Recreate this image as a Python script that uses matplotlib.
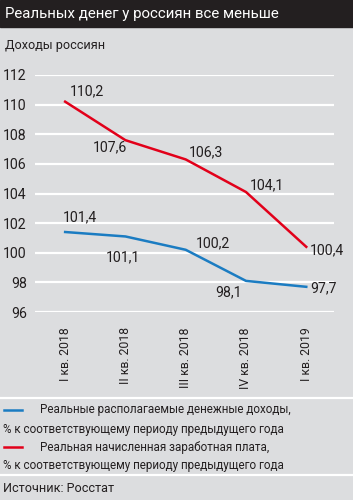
import matplotlib
matplotlib.use("Agg")
import matplotlib.pyplot as plt
from matplotlib.lines import Line2D
from matplotlib.patches import Rectangle

plt.rcParams['font.family'] = ['Roboto', 'DejaVu Sans']

categories = ["I кв. 2018", "II кв. 2018", "III кв. 2018", "IV кв. 2018", "I кв. 2019"]
income = [101.4, 101.1, 100.2, 98.1, 97.7]
wages = [110.2, 107.6, 106.3, 104.1, 100.4]
yticks = [96, 98, 100, 102, 104, 106, 108, 110, 112]
income_label_offsets = [(15, 15), (-2, -21), (27, 6), (-17, -11), (17, -1)]
wages_label_offsets = [(22, 10), (-15, -7), (20, 7), (21, 7), (21, -3)]

title = "Реальных денег у россиян все меньше"
subtitle = "Доходы россиян"
legend_income = ["Реальные располагаемые денежные доходы,", "% к соответствующему периоду предыдущего года"]
legend_wages = ["Реальная начисленная заработная плата,", "% к соответствующему периоду предыдущего года"]
source = "Источник: Росстат"

BG = "#dcdddf"
DARK = "#231f20"
RED = "#e2001a"
BLUE = "#1b7cc2"
TXT = "#231f20"

FS = 8.4
W, H = 353, 500
fig = plt.figure(figsize=(W / 100, H / 100), dpi=100, facecolor=BG)

def fy(py):
    return 1 - py / H

def fx(px):
    return px / W

# title bar
fig.patches.append(Rectangle((0, fy(27)), 1, 27 / H, transform=fig.transFigure, color=DARK, zorder=0))
fig.text(fx(5), fy(14), title, color="white", fontsize=10.8, va="center", ha="left")
fig.text(fx(5), fy(45), subtitle, color=TXT, fontsize=9.1, va="center", ha="left")

# axes
ax = fig.add_axes([fx(35), fy(312), fx(334) - fx(35), fy(75) - fy(312)])
ax.set_facecolor(BG)
ax.set_ylim(96, 112)
ax.set_xlim(-0.5, 4.46)
ax.set_yticks(yticks)
ax.set_yticklabels([str(v) for v in yticks])
ax.yaxis.grid(True, color="white", linewidth=1.6)
ax.set_axisbelow(True)
for s in ax.spines.values():
    s.set_visible(False)
ax.tick_params(axis="y", length=0, pad=6, labelsize=10.2, labelcolor=TXT)
ax.tick_params(axis="x", length=0, pad=11, labelsize=8.8, labelcolor=TXT)
x = list(range(len(categories)))
ax.set_xticks(x)
ax.set_xticklabels(categories, rotation=90, va="top", ha="center")

ax.plot(x, wages, color=RED, linewidth=1.8, clip_on=False, solid_joinstyle="round")
ax.plot(x, income, color=BLUE, linewidth=1.8, clip_on=False, solid_joinstyle="round")

def fmt(v):
    return f"{v:.1f}".replace(".", ",")

for xi, v, off in zip(x, wages, wages_label_offsets):
    ax.annotate(fmt(v), (xi, v), xytext=off, textcoords="offset pixels",
                ha="center", va="center", fontsize=10.2, color=TXT)
for xi, v, off in zip(x, income, income_label_offsets):
    ax.annotate(fmt(v), (xi, v), xytext=off, textcoords="offset pixels",
                ha="center", va="center", fontsize=10.2, color=TXT)

# separators
for py in (398, 475):
    fig.lines.append(Line2D([0, 1], [fy(py), fy(py)], transform=fig.transFigure, color="white", linewidth=1.6))

# legend
fig.lines.append(Line2D([fx(4), fx(22)], [fy(410), fy(410)], transform=fig.transFigure, color=BLUE, linewidth=1.8))
fig.text(fx(40), fy(410), legend_income[0], fontsize=FS, color=TXT, va="center", ha="left")
fig.text(fx(3), fy(429), legend_income[1], fontsize=FS, color=TXT, va="center", ha="left")
fig.lines.append(Line2D([fx(4), fx(22)], [fy(447), fy(447)], transform=fig.transFigure, color=RED, linewidth=1.8))
fig.text(fx(40), fy(447), legend_wages[0], fontsize=FS, color=TXT, va="center", ha="left")
fig.text(fx(3), fy(466), legend_wages[1], fontsize=FS, color=TXT, va="center", ha="left")
fig.text(fx(3), fy(488), source, fontsize=9.1, color=TXT, va="center", ha="left")

fig.savefig("out.png", dpi=100, facecolor=BG)
